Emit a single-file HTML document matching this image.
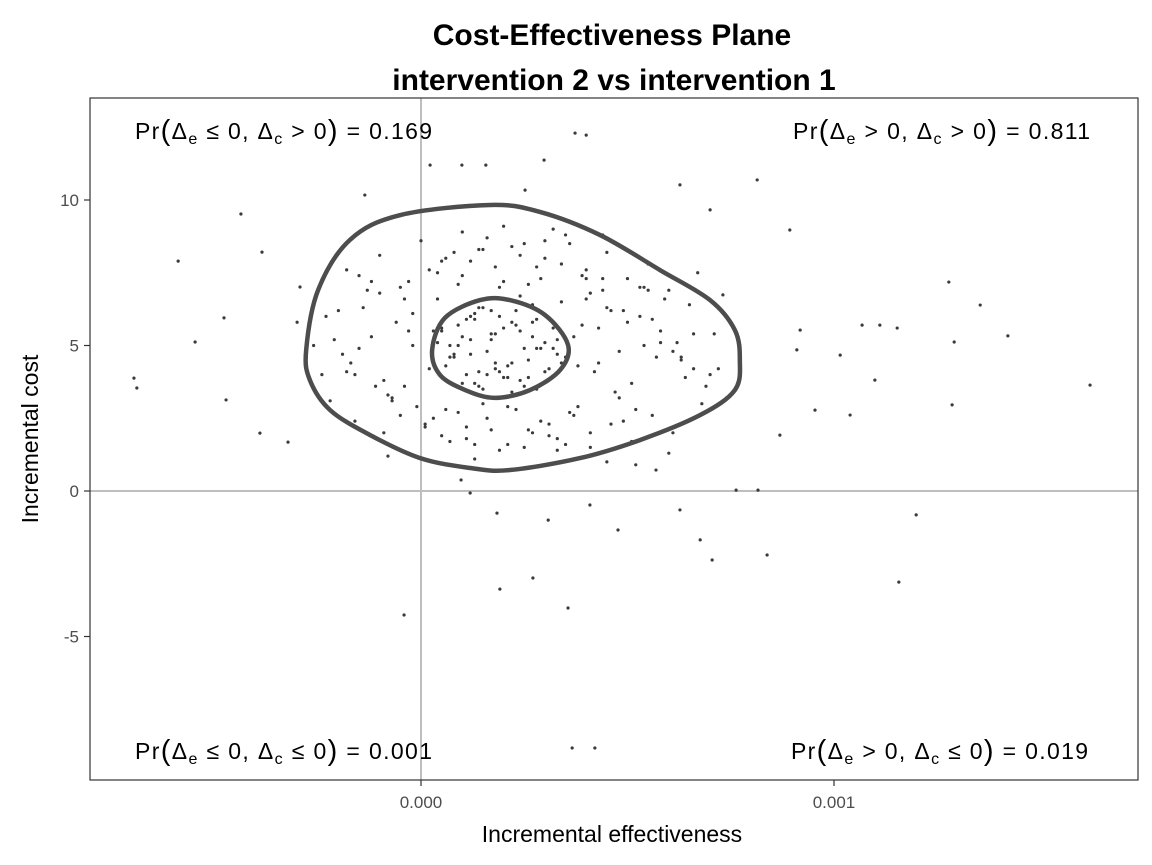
<!DOCTYPE html>
<html><head><meta charset="utf-8">
<style>
html,body{margin:0;padding:0;background:#fff;}
svg{display:block;font-family:"Liberation Sans",Arial,sans-serif;}
</style></head>
<body>
<svg id="chart" width="1152" height="865" viewBox="0 0 1152 865" xmlns="http://www.w3.org/2000/svg">
<rect width="1152" height="865" fill="#fff"/>
<text x="612" y="45" text-anchor="middle" font-size="30" font-weight="bold">Cost-Effectiveness Plane</text>
<text x="614" y="90" text-anchor="middle" font-size="30" font-weight="bold">intervention 2 vs intervention 1</text>
<g id="plot"></g>
<text x="612" y="842" text-anchor="middle" font-size="23">Incremental effectiveness</text>
<text transform="translate(38,439) rotate(-90)" text-anchor="middle" font-size="23">Incremental cost</text>
</svg>
<script>
const xTicks = [0, 0.001];
const xTickLabels = ["0.000", "0.001"];
const yTicks = [-5, 0, 5, 10];
const yTickLabels = ["-5", "0", "5", "10"];
const pointsX = [-0.695e-3,-0.688e-3,-0.588e-3,-0.547e-3,-0.436e-3,-0.385e-3,-0.477e-3,-0.472e-3,-0.390e-3,-0.322e-3,-0.293e-3,1.620e-3,1.421e-3,1.354e-3,1.278e-3,1.291e-3,1.286e-3,1.199e-3,1.157e-3,-0.041e-3,0.356e-3,0.421e-3,0.366e-3,0.271e-3,0.191e-3,0.373e-3,0.400e-3,0.298e-3,0.676e-3,0.705e-3,0.838e-3,0.910e-3,0.954e-3,1.068e-3,1.111e-3,1.099e-3,1.153e-3,1.015e-3,1.039e-3,0.814e-3,0.893e-3,0.731e-3,0.763e-3,0.816e-3,0.477e-3,0.409e-3,0.184e-3,0.119e-3,0.097e-3,0.569e-3,0.627e-3,0.308e-3,0.022e-3,0.099e-3,0.157e-3,-0.136e-3,0.252e-3,0.627e-3,0.700e-3,0.918e-3,0.869e-3,
-0.20e-3,-0.15e-3,-0.10e-3,-0.05e-3,0.00e-3,0.05e-3,0.10e-3,0.15e-3,0.20e-3,0.25e-3,0.30e-3,0.35e-3,0.40e-3,0.45e-3,0.50e-3,0.55e-3,0.60e-3,0.65e-3,
-0.18e-3,-0.12e-3,-0.07e-3,-0.02e-3,0.03e-3,0.08e-3,0.13e-3,0.18e-3,0.23e-3,0.28e-3,0.33e-3,0.38e-3,0.43e-3,0.48e-3,0.53e-3,0.58e-3,0.63e-3,0.70e-3,
-0.22e-3,-0.16e-3,-0.09e-3,-0.04e-3,0.01e-3,0.06e-3,0.11e-3,0.16e-3,0.21e-3,0.26e-3,0.31e-3,0.36e-3,0.41e-3,0.46e-3,0.51e-3,0.56e-3,0.61e-3,0.68e-3,
-0.10e-3,-0.03e-3,0.04e-3,0.09e-3,0.14e-3,0.19e-3,0.24e-3,0.29e-3,0.34e-3,0.39e-3,0.44e-3,0.49e-3,0.54e-3,0.59e-3,
0.02e-3,0.07e-3,0.12e-3,0.17e-3,0.22e-3,0.27e-3,0.32e-3,0.10e-3,0.15e-3,0.20e-3,0.25e-3,0.30e-3,0.05e-3,0.35e-3,
-0.26e-3,-0.24e-3,-0.30e-3,0.72e-3,0.74e-3,0.66e-3,-0.08e-3,0.45e-3,0.52e-3,0.60e-3,0.13e-3,0.33e-3,
0.04e-3,0.06e-3,0.09e-3,0.11e-3,0.13e-3,0.16e-3,0.18e-3,0.21e-3,0.23e-3,0.26e-3,0.28e-3,0.31e-3,0.05e-3,0.08e-3,0.12e-3,0.14e-3,0.17e-3,0.19e-3,0.22e-3,0.24e-3,0.27e-3,0.29e-3,0.32e-3,0.34e-3,
0.07e-3,0.10e-3,0.13e-3,0.15e-3,0.18e-3,0.20e-3,0.22e-3,0.25e-3,0.27e-3,0.30e-3,0.03e-3,0.06e-3,0.11e-3,0.16e-3,0.19e-3,0.24e-3,0.28e-3,0.33e-3,0.09e-3,0.14e-3,0.21e-3,0.26e-3,0.12e-3,0.17e-3,
-0.21e-3,-0.17e-3,-0.14e-3,-0.11e-3,-0.06e-3,-0.01e-3,-0.19e-3,-0.13e-3,-0.08e-3,-0.03e-3,-0.23e-3,-0.16e-3,-0.12e-3,-0.05e-3,-0.02e-3,-0.18e-3,-0.09e-3,-0.04e-3,-0.15e-3,-0.07e-3,
0.37e-3,0.40e-3,0.42e-3,0.44e-3,0.47e-3,0.50e-3,0.52e-3,0.55e-3,0.57e-3,0.62e-3,0.64e-3,0.67e-3,0.39e-3,0.43e-3,0.46e-3,0.48e-3,0.53e-3,0.58e-3,0.61e-3,0.66e-3,0.38e-3,0.45e-3,0.51e-3,0.56e-3,0.41e-3,0.49e-3,0.54e-3,0.63e-3,0.69e-3,0.71e-3,
0.02e-3,0.06e-3,0.10e-3,0.14e-3,0.18e-3,0.22e-3,0.26e-3,0.30e-3,0.34e-3,0.04e-3,0.08e-3,0.12e-3,0.16e-3,0.20e-3,0.24e-3,0.28e-3,0.32e-3,0.36e-3,0.40e-3,0.44e-3,
0.01e-3,0.05e-3,0.09e-3,0.13e-3,0.17e-3,0.21e-3,0.25e-3,0.29e-3,0.33e-3,0.37e-3,0.41e-3,0.03e-3,0.07e-3,0.11e-3,0.15e-3,0.19e-3,0.23e-3,0.27e-3,0.31e-3,0.35e-3];
const pointsY = [3.88,3.54,7.90,5.12,9.52,8.21,5.95,3.13,1.99,1.68,7.01,3.64,5.33,6.39,7.18,5.12,2.96,-0.82,-3.13,-4.26,-4.02,-8.83,-8.83,-2.99,-3.37,12.30,12.23,11.37,-1.68,-2.37,-2.20,4.85,2.78,5.70,5.70,3.81,5.60,4.67,2.61,10.69,8.97,6.74,0.03,0.03,-1.34,-0.48,-0.76,-0.07,0.38,0.72,-0.65,-1.00,11.20,11.20,11.20,10.17,10.34,10.52,9.66,5.53,1.92,
6.2,7.4,8.1,7.0,8.6,7.9,8.9,8.3,9.1,8.5,8.0,8.8,7.6,8.2,7.3,7.8,6.9,6.4,
4.1,5.3,3.2,6.1,5.5,4.6,5.9,4.4,5.7,4.9,5.2,4.3,5.6,4.8,6.0,5.1,4.5,4.0,
3.1,2.4,2.0,3.6,2.2,2.8,1.8,2.5,1.6,2.1,1.9,2.7,1.5,2.3,1.7,2.6,2.0,3.0,
6.8,7.2,6.6,7.1,6.3,7.0,6.7,7.3,6.5,7.4,6.9,6.2,7.0,6.6,
4.2,5.0,4.7,5.4,4.4,5.8,4.9,3.7,3.5,3.9,3.6,4.1,5.6,4.6,
5.0,4.0,5.8,4.2,3.2,5.4,1.2,1.0,0.9,1.3,1.1,1.4,
5.1,4.3,5.7,4.0,6.1,4.8,5.4,3.9,6.2,4.5,5.9,4.2,5.5,4.7,6.0,3.6,5.2,4.1,5.8,3.8,5.3,4.9,5.6,4.4,
4.6,5.3,3.7,6.3,4.2,5.6,3.4,4.9,6.4,5.1,4.4,3.8,5.9,4.0,6.0,5.5,3.5,4.7,5.0,4.1,4.3,3.9,5.2,6.2,
5.2,4.4,6.3,3.6,5.8,2.9,4.7,6.9,3.3,5.5,6.0,4.0,7.2,2.6,5.0,7.6,3.8,6.6,4.9,3.1,
5.3,6.6,4.1,7.3,3.4,5.8,2.8,6.9,4.6,5.1,3.9,7.5,5.7,4.4,6.2,3.2,7.0,5.5,4.8,4.2,2.9,6.3,3.7,5.9,6.8,2.4,5.0,4.6,3.6,5.4,
7.6,8.0,7.4,8.3,7.7,8.4,7.1,8.6,7.8,7.5,8.2,7.9,8.7,7.2,8.1,7.7,9.0,8.5,7.3,8.8,
2.3,1.9,2.7,1.6,2.1,2.9,1.5,2.4,1.8,2.6,2.0,2.5,1.7,2.2,3.0,1.4,2.8,2.0,2.3,1.6];
const outerX = [-0.278e-3,-0.249e-3,-0.172e-3,-0.051e-3,0.167e-3,0.288e-3,0.433e-3,0.579e-3,0.700e-3,0.760e-3,0.772e-3,0.760e-3,0.676e-3,0.530e-3,0.385e-3,0.215e-3,0.119e-3,-0.002e-3,-0.123e-3,-0.220e-3,-0.269e-3];
const outerY = [4.85,6.91,8.63,9.48,9.83,9.59,8.80,7.59,6.56,5.53,4.50,3.47,2.61,1.75,1.13,0.72,0.79,1.13,1.92,2.78,3.81];
const innerX = [0.027e-3,0.058e-3,0.143e-3,0.215e-3,0.300e-3,0.356e-3,0.337e-3,0.264e-3,0.179e-3,0.107e-3,0.046e-3];
const innerY = [4.85,5.95,6.56,6.56,6.05,5.02,4.16,3.47,3.20,3.47,3.99];

const P = {l:90, r:1138, t:98, b:780};
const xScale = v => 421 + v * 413000;
const yScale = v => 491 - v * 29.1;
const NS = "http://www.w3.org/2000/svg";
const g = document.getElementById('plot');
function mk(tag, attrs, parent){ const e=document.createElementNS(NS,tag); for(const k in attrs) e.setAttribute(k,attrs[k]); (parent||g).appendChild(e); return e; }

let bg = mk('rect',{x:P.l,y:P.t,width:P.r-P.l,height:P.b-P.t,fill:'#fff'});


let vl = mk('line',{x1:xScale(0),x2:xScale(0),y1:P.t,y2:P.b,stroke:'#bebebe','stroke-width':2});


let hl = mk('line',{x1:P.l,x2:P.r,y1:yScale(0),y2:yScale(0),stroke:'#bebebe','stroke-width':2});



for(let i=0;i<pointsX.length;i++){
  const c = mk('circle',{cx:xScale(pointsX[i]),cy:yScale(pointsY[i]),r:1.6,fill:'#3a3a3a'});
  
  
}
function closedPath(xs,ys){
  const pts = xs.map((x,i)=>[xScale(x),yScale(ys[i])]); const n=pts.length;
  let d=`M${pts[0][0]},${pts[0][1]}`;
  for(let i=0;i<n;i++){
    const p0=pts[(i-1+n)%n],p1=pts[i],p2=pts[(i+1)%n],p3=pts[(i+2)%n];
    d+=` C${p1[0]+(p2[0]-p0[0])/6},${p1[1]+(p2[1]-p0[1])/6} ${p2[0]-(p3[0]-p1[0])/6},${p2[1]-(p3[1]-p1[1])/6} ${p2[0]},${p2[1]}`;
  }
  return d+'Z';
}
let oc = mk('path',{d:closedPath(outerX,outerY),fill:'none',stroke:'#4d4d4d','stroke-width':4.5});


let ic = mk('path',{d:closedPath(innerX,innerY),fill:'none',stroke:'#4d4d4d','stroke-width':4.5});



let border = mk('rect',{x:P.l,y:P.t,width:P.r-P.l,height:P.b-P.t,fill:'none',stroke:'#333','stroke-width':1.2});



xTicks.forEach((v,i)=>{
  const t = mk('line',{x1:xScale(v),x2:xScale(v),y1:P.b,y2:P.b+6,stroke:'#333','stroke-width':1.2});
  
  
  const l = mk('text',{x:xScale(v),y:P.b+28,'text-anchor':'middle','font-size':17,fill:'#4d4d4d'});
  
  
  l.textContent = xTickLabels[i];
});
yTicks.forEach((v,i)=>{
  const t = mk('line',{x1:P.l-6,x2:P.l,y1:yScale(v),y2:yScale(v),stroke:'#333','stroke-width':1.2});
  
  
  const l = mk('text',{x:P.l-11,y:yScale(v)+6,'text-anchor':'end','font-size':17,fill:'#4d4d4d'});
  
  
  l.textContent = yTickLabels[i];
});

const annos = [
  {x:135,y:139,o1:'≤',o2:'>',v:'0.169',name:'prob-nw-quadrant'},
  {x:793,y:139,o1:'>',o2:'>',v:'0.811',name:'prob-ne-quadrant'},
  {x:135,y:759,o1:'≤',o2:'≤',v:'0.001',name:'prob-sw-quadrant'},
  {x:791,y:759,o1:'>',o2:'≤',v:'0.019',name:'prob-se-quadrant'}
];
annos.forEach(a=>{
  const t = mk('text',{x:a.x,y:a.y,'font-size':23,fill:'#000',textLength:297,lengthAdjust:'spacing'});
  
  
  t.innerHTML = `Pr<tspan font-size="29" dy="1">(</tspan><tspan dy="-1">Δ</tspan><tspan font-size="16" dy="5">e</tspan><tspan dy="-5"> ${a.o1} 0, Δ</tspan><tspan font-size="16" dy="5">c</tspan><tspan dy="-5"> ${a.o2} 0</tspan><tspan font-size="29" dy="1">)</tspan><tspan dy="-1"> = ${a.v}</tspan>`;
});
</script>
</body></html>
